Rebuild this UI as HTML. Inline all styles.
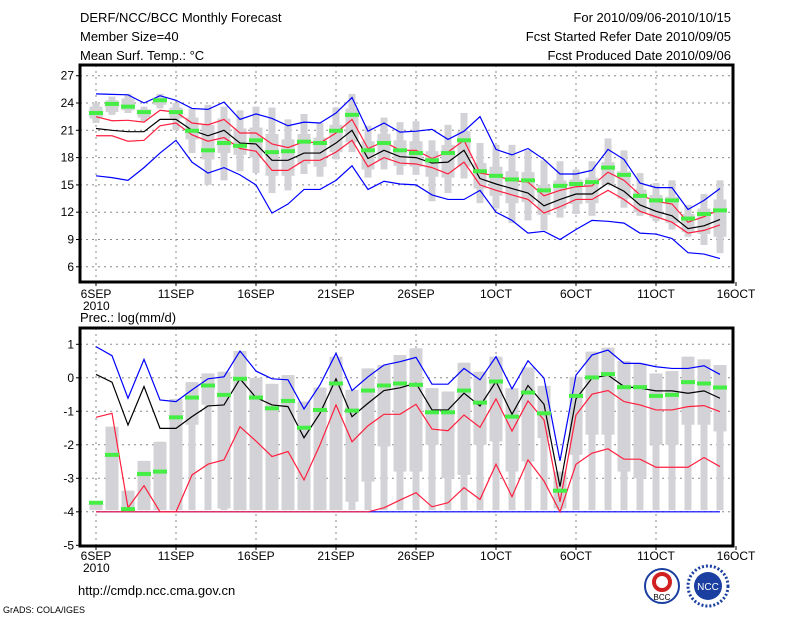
<!DOCTYPE html>
<html><head><meta charset="utf-8"><style>
body{margin:0;background:#fff;width:800px;height:618px;overflow:hidden;font-family:"Liberation Sans",sans-serif}
svg text{font-family:"Liberation Sans",sans-serif;fill:#000}
</style></head><body>
<svg id="c" width="800" height="618" viewBox="0 0 800 618">
<g font-size="13">
<text x="80" y="22">DERF/NCC/BCC Monthly Forecast</text>
<text x="80" y="41">Member Size=40</text>
<text x="80" y="60">Mean Surf. Temp.: °C</text>
<text x="731" y="22" text-anchor="end">For 2010/09/06-2010/10/15</text>
<text x="731" y="41" text-anchor="end">Fcst Started Refer Date 2010/09/05</text>
<text x="731" y="60" text-anchor="end">Fcst Produced Date 2010/09/06</text>
<text x="80" y="322">Prec.: log(mm/d)</text>
<text x="78" y="595">http://cmdp.ncc.cma.gov.cn</text>
<text x="3" y="613" font-size="9">GrADS: COLA/IGES</text>
</g>
<g>
<circle cx="662" cy="586" r="17" fill="#fff" stroke="#1a3fa0" stroke-width="2"/>
<circle cx="662" cy="582" r="8" fill="none" stroke="#d02020" stroke-width="4"/>
<text x="662" y="600" font-size="8" text-anchor="middle" fill="#1a3fa0">BCC</text>
</g>
<g>
<circle cx="708" cy="586" r="20" fill="#fff" stroke="#1a3fa0" stroke-width="3" stroke-dasharray="2,2"/>
<circle cx="708" cy="586" r="14" fill="#1a3fa0"/>
<text x="708" y="590" font-size="10" text-anchor="middle" fill="#fff" style="fill:#fff">NCC</text>
</g>
<g id="plots"></g>
</svg>
<script>
// ---------- data: temperature panel ----------
const days=["6SEP","11SEP","16SEP","21SEP","26SEP","1OCT","6OCT","11OCT","16OCT"];
const tMean=[21.2,21.0,20.85,20.85,22.2,22.2,21.0,20.4,21.0,19.6,19.5,17.7,17.7,18.5,18.5,19.6,21.0,17.9,18.8,18.1,18.0,17.4,17.5,18.8,15.7,15.1,14.6,14.1,12.7,13.4,14.0,14.0,15.2,14.3,12.8,12.1,11.6,10.2,10.5,11.2];
const tRedUp=[22.5,22.05,22.1,21.9,23.2,23.0,21.8,21.6,22.2,20.7,20.7,19.5,19.1,19.75,19.6,20.7,22.2,19.0,19.75,18.8,18.8,17.9,18.6,19.9,16.3,16.0,15.5,15.3,13.8,14.4,14.8,14.9,16.4,15.5,13.9,13.2,12.9,10.9,11.5,12.3];
const tRedLo=[20.4,20.4,19.8,19.9,21.5,21.8,20.5,19.8,20.2,19.0,18.7,16.6,16.6,17.7,17.7,18.6,19.9,17.0,18.0,17.4,17.3,16.9,16.2,17.5,15.0,14.4,13.9,13.4,11.9,12.6,13.4,13.4,14.4,13.4,12.1,11.5,10.9,9.7,10.0,10.6];
const tMax=[25.0,24.95,24.9,24.0,24.8,24.3,23.4,23.3,24.1,22.2,22.8,22.3,21.5,21.9,21.8,22.9,24.6,20.9,21.8,20.8,20.9,21.1,20.0,20.9,22.5,18.9,18.3,19.0,17.8,16.2,16.2,16.6,18.9,17.8,15.2,14.7,14.7,12.3,13.3,14.6];
const tMin=[16.0,15.8,15.5,16.9,18.5,19.9,17.5,16.3,16.9,16.1,15.0,11.9,12.9,14.5,14.5,15.5,17.1,14.5,15.4,15.1,15.0,13.9,13.4,13.4,14.4,12.0,11.1,9.7,9.9,9.0,10.1,11.1,11.0,10.8,9.7,9.6,9.1,7.55,7.4,6.9];
const tObs=[22.9,23.9,23.6,23.0,24.3,23.0,20.95,18.8,19.6,19.3,19.9,18.6,18.7,19.75,19.6,20.95,22.7,18.8,19.6,18.8,18.5,17.7,18.5,19.9,16.5,16.0,15.6,15.5,14.4,14.9,15.1,15.3,16.9,16.1,13.8,13.3,13.3,11.3,11.8,12.2];
const tHi=[24.0,24.7,25.0,23.6,25.0,24.0,23.4,23.8,23.6,23.2,23.6,23.5,22.2,22.8,21.8,23.5,25.0,21.5,22.4,21.9,22.0,19.9,21.6,22.9,19.6,19.4,19.4,18.8,17.7,17.6,16.7,17.6,20.1,18.8,16.3,15.2,15.5,12.8,14.0,15.5];
const tLo=[21.8,22.7,22.9,22.0,23.4,21.0,18.5,15.0,15.5,16.5,16.3,14.1,14.4,16.2,15.9,17.8,18.6,15.8,16.7,16.1,16.1,13.2,14.1,15.7,13.0,12.4,10.8,11.1,10.0,11.4,11.8,11.6,15.4,12.5,11.6,11.0,10.1,9.3,8.4,7.5];
const tQHi=[23.6,24.3,24.5,23.3,24.6,23.5,22.4,21.6,22.3,21.2,21.3,20.6,20.0,20.6,20.2,21.6,23.4,19.8,20.6,19.9,19.8,18.7,19.4,20.9,17.4,17.0,16.5,16.4,15.0,15.5,15.6,15.8,17.5,16.5,14.5,13.9,13.7,11.8,12.4,13.4];
const tQLo=[22.3,23.0,23.2,22.4,23.8,22.3,20.0,17.8,18.5,18.3,18.0,16.0,16.0,17.3,17.0,18.6,19.7,16.7,17.7,17.1,17.0,15.9,15.8,17.0,14.6,13.8,13.0,13.1,11.7,12.4,12.9,13.0,15.0,13.5,12.0,11.4,10.8,9.8,9.6,9.3];
const tTicks=[6,9,12,15,18,21,24,27];
// ---------- data: precipitation panel ----------
const pMean=[0.10,-0.13,-1.41,-0.26,-1.51,-1.51,-1.16,-0.84,-0.81,-0.03,-0.59,-0.81,-0.86,-1.79,-1.06,-0.03,-1.16,-0.76,-0.38,-0.30,-0.16,-0.96,-0.96,-0.46,-0.84,-0.11,-1.09,-0.23,-0.79,-3.25,-0.63,-0.01,0.08,-0.26,-0.31,-0.39,-0.39,-0.46,-0.39,-0.61];
const pMax=[0.93,0.66,-0.61,0.55,-0.66,-0.71,-0.36,-0.03,0.03,0.80,0.20,-0.03,-0.06,-0.93,-0.21,0.73,-0.38,0.03,0.38,0.48,0.61,-0.19,-0.19,0.28,-0.06,0.63,-0.33,0.51,-0.01,-2.48,0.08,0.68,0.83,0.43,0.43,0.33,0.28,0.28,0.36,0.10];
const pMin=[-4,-4,-4,-4,-4,-4,-4,-4,-4,-4,-4,-4,-4,-4,-4,-4,-4,-4,-4,-4,-4,-4,-4,-4,-4,-4,-4,-4,-4,-4,-4,-4,-4,-4,-4,-4,-4,-4,-4,-4];
const pRedUp=[-1.18,-1.06,-3.88,-3.22,-4.0,-4.0,-2.90,-2.58,-2.45,-1.46,-1.89,-2.35,-2.20,-3.05,-2.0,-0.81,-1.91,-1.43,-1.09,-1.09,-0.79,-1.53,-1.58,-1.11,-1.48,-0.63,-1.59,-0.69,-1.26,-3.70,-1.11,-0.49,-0.38,-0.71,-0.81,-0.96,-0.96,-0.86,-0.83,-1.01];
const pRedLo=[-4,-4,-4,-4,-4,-4,-4,-4,-4,-4,-4,-4,-4,-4,-4,-4,-4,-4,-3.88,-3.65,-3.43,-3.85,-3.73,-3.28,-3.63,-2.58,-3.55,-2.45,-3.08,-4.0,-2.58,-2.25,-2.12,-2.43,-2.43,-2.67,-2.67,-2.67,-2.38,-2.65];
const pObs=[-3.73,-2.30,-3.92,-2.87,-2.80,-1.18,-0.59,-0.23,-0.51,-0.03,-0.59,-0.91,-0.69,-1.49,-0.96,-0.17,-0.98,-0.38,-0.23,-0.17,-0.21,-1.03,-1.03,-0.38,-0.74,-0.11,-1.16,-0.44,-1.06,-3.37,-0.54,0.01,0.11,-0.28,-0.28,-0.54,-0.51,-0.13,-0.17,-0.29];
const pHi=[-3.7,-1.46,-3.37,-2.48,-1.91,-0.63,-0.13,0.13,0.18,0.80,0.0,-0.18,0.08,-0.71,-0.29,0.63,-0.36,0.28,0.38,0.68,0.88,-0.31,-0.41,0.45,0.18,0.63,-0.31,0.31,-0.24,-2.80,0.03,0.78,0.90,0.50,0.43,0.13,0.20,0.63,0.55,0.38];
const pQLo=[-3.95,-3.95,-3.95,-3.95,-3.95,-3.95,-1.4,-0.8,-3.9,-3.95,-3.95,-3.95,-3.95,-3.95,-3.95,-3.95,-3.7,-3.1,-2.05,-2.8,-2.8,-2.0,-3.0,-2.9,-2.0,-1.9,-2.8,-2.5,-1.8,-3.9,-2.3,-1.7,-1.7,-2.8,-3.0,-2.0,-2.0,-1.4,-1.4,-1.6];
const pTicks=[-5,-4,-3,-2,-1,0,1];

const NS="http://www.w3.org/2000/svg";
const root=document.getElementById('plots');
function mk(tag,attrs,parent){const e=document.createElementNS(NS,tag);for(const k in attrs)e.setAttribute(k,attrs[k]);(parent||root).appendChild(e);return e;}
const X0=80,X1=733;
function xD(d){return 96+16*d;}
function yT(v){return 75.7+(27-v)*9.1;}
function yB(v){return 344.3+(1-v)*33.5;}

function panel(name,top,bot,yf,ticks,lblY){
  const g=mk('g',{});
  
  
  ticks.forEach(v=>{
    const y=yf(v);
    const l=mk('line',{x1:X0,x2:X1,y1:y,y2:y,stroke:'#888','stroke-width':1,'stroke-dasharray':'2,4'},g);
    
    
    mk('line',{x1:X0-4,x2:X0,y1:y,y2:y,stroke:'#000'},g);
    const t=mk('text',{x:X0-6,y:y+4,'font-size':12,'text-anchor':'end'},g);
    t.textContent=v;
    
    
  });
  days.forEach((s,i)=>{
    const x=xD(i*5);
    if(x<X1){const l=mk('line',{x1:x,x2:x,y1:top,y2:bot,stroke:'#888','stroke-width':1,'stroke-dasharray':'2,4'},g);
    
    }
    mk('line',{x1:x,x2:x,y1:bot,y2:bot+4,stroke:'#000'},g);
    const t=mk('text',{x:x,y:lblY,'font-size':12,'text-anchor':'middle'},g);
    t.textContent=s;
    
    
  });
  const yr=mk('text',{x:83,y:lblY+12,'font-size':12},g);
  yr.textContent='2010';
  
  
  return g;
}
function bars(g,hi,lo,qhi,qlo,yf){
  hi.forEach((v,i)=>{
    const x=xD(i);
    const r=mk('rect',{x:x-3.5,y:yf(v),width:7,height:yf(lo[i])-yf(v),fill:'#d3d3d7'},g);
    
    
    const b=mk('rect',{x:x-6.5,y:yf(qhi[i]),width:13,height:Math.max(1,yf(qlo[i])-yf(qhi[i])),fill:'#d3d3d7'},g);
    
    
  });
}
function line(g,arr,yf,col,name){
  const p=mk('polyline',{points:arr.map((v,i)=>xD(i)+','+yf(v)).join(' '),fill:'none',stroke:col,'stroke-width':1.2},g);
  
  
}
function obs(g,arr,yf){
  arr.forEach((v,i)=>{
    const r=mk('rect',{x:xD(i)-7,y:yf(v)-2,width:14,height:4,fill:'#44ee44'},g);
    
    
  });
}
// top panel
const gt=panel('temperature-panel',65,282,yT,tTicks,298);
bars(gt,tHi,tLo,tQHi,tQLo,yT);
line(gt,tMax,yT,'#0000ff','temp-max-line');
line(gt,tMin,yT,'#0000ff','temp-min-line');
line(gt,tRedUp,yT,'#ff1f3f','temp-upper-line');
line(gt,tRedLo,yT,'#ff1f3f','temp-lower-line');
line(gt,tMean,yT,'#000','temp-mean-line');
obs(gt,tObs,yT);
const ft=mk('rect',{x:X0,y:65,width:X1-X0,height:217,fill:'none',stroke:'#000','stroke-width':3},gt);


// bottom panel
const gb=panel('precip-panel',328,546,yB,pTicks,560);
bars(gb,pHi,pMin.map(()=>-3.95),pHi,pQLo,yB);
line(gb,pMax,yB,'#0000ff','precip-max-line');
line(gb,pMin,yB,'#0000ff','precip-min-line');
line(gb,pRedUp,yB,'#ff1f3f','precip-upper-line');
line(gb,pRedLo,yB,'#ff1f3f','precip-lower-line');
line(gb,pMean,yB,'#000','precip-mean-line');
obs(gb,pObs,yB);
const fb=mk('rect',{x:X0,y:328,width:X1-X0,height:218,fill:'none',stroke:'#000','stroke-width':3},gb);


</script>
</body></html>
